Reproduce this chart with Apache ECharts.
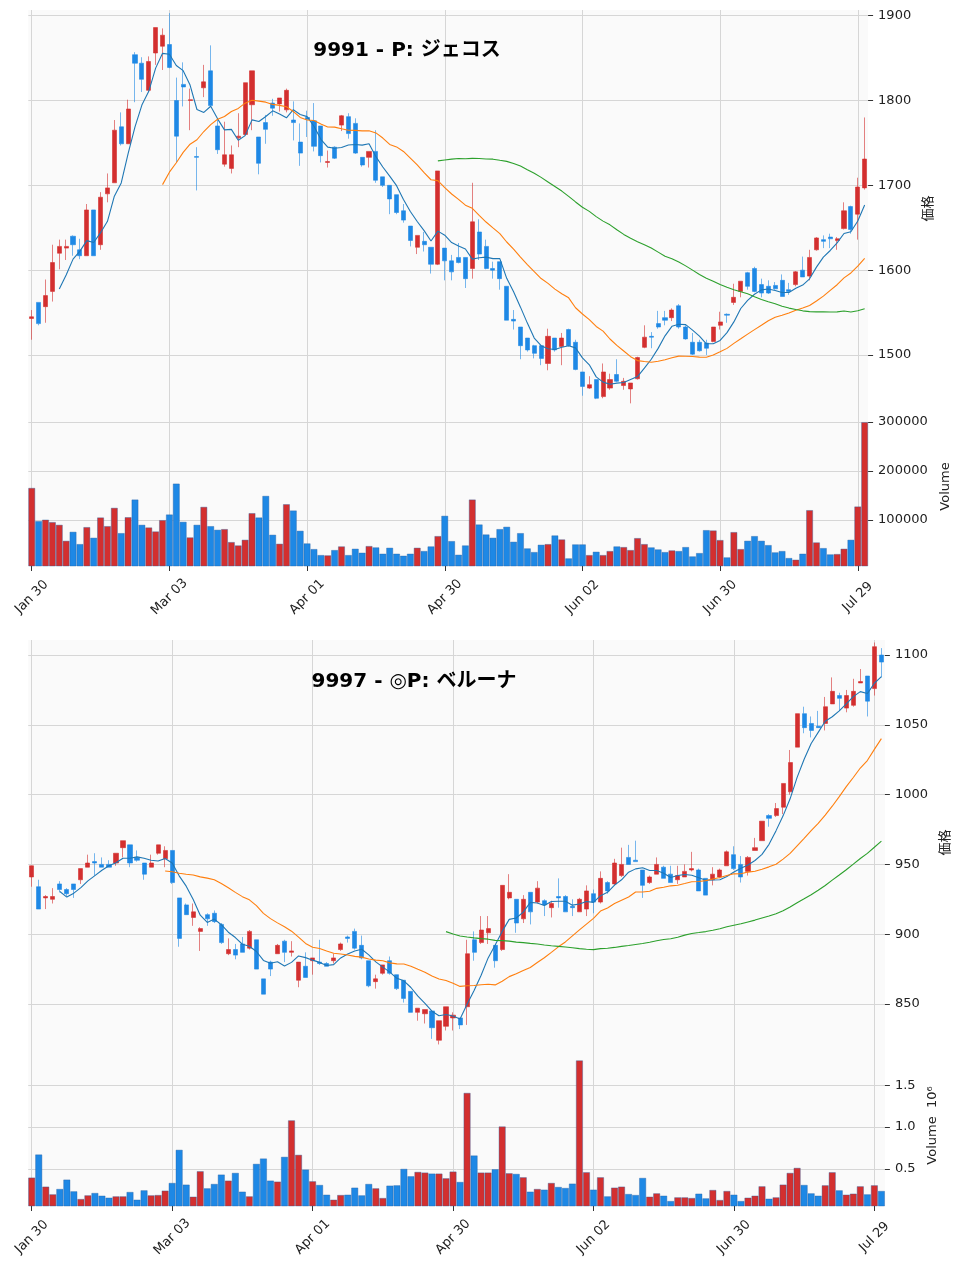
<!DOCTYPE html>
<html>
<head>
<meta charset="utf-8">
<title>9991 / 9997</title>
<script src="https://cdn.jsdelivr.net/npm/echarts@6/dist/echarts.min.js"></script>
<style>
html, body { margin: 0; padding: 0; background: #ffffff; }
#chart { width: 960px; height: 1272px; }
</style>
</head>
<body>
<div id="chart"></div>
<script>
// trading days (one shared category list for both stocks)
var dates = ['Jan 30','Jan 31','Feb 03','Feb 04','Feb 05','Feb 06','Feb 07','Feb 10','Feb 12','Feb 13','Feb 14','Feb 17','Feb 18','Feb 19','Feb 20','Feb 21','Feb 25','Feb 26','Feb 27','Feb 28',
    'Mar 03','Mar 04','Mar 05','Mar 06','Mar 07','Mar 10','Mar 11','Mar 12','Mar 13','Mar 14','Mar 17','Mar 18','Mar 19','Mar 21','Mar 24','Mar 25','Mar 26','Mar 27','Mar 28','Mar 31',
    'Apr 01','Apr 02','Apr 03','Apr 04','Apr 07','Apr 08','Apr 09','Apr 10','Apr 11','Apr 14','Apr 15','Apr 16','Apr 17','Apr 18','Apr 21','Apr 22','Apr 23','Apr 24','Apr 25','Apr 28',
    'Apr 30','May 01','May 02','May 07','May 08','May 09','May 12','May 13','May 14','May 15','May 16','May 19','May 20','May 21','May 22','May 23','May 26','May 27','May 28','May 29',
    'Jun 02','Jun 03','Jun 04','Jun 05','Jun 06','Jun 09','Jun 10','Jun 11','Jun 12','Jun 13','Jun 16','Jun 17','Jun 18','Jun 19','Jun 20','Jun 23','Jun 24','Jun 25','Jun 26','Jun 27',
    'Jun 30','Jul 01','Jul 02','Jul 03','Jul 04','Jul 07','Jul 08','Jul 09','Jul 10','Jul 11','Jul 14','Jul 15','Jul 16','Jul 17','Jul 18','Jul 22','Jul 23','Jul 24','Jul 25','Jul 28',
    'Jul 29','Jul 30'];

// 9991 ジェコス
var open1 = [1543,1562,1557,1575,1620,1626,1640,1624,1617,1671, 1630,1690,1703,1769,1749,1854,1844,1812,1856,1864,
    1866,1800,1819,1800,1734,1815,1835,1770,1725,1720, 1756,1760,1795,1757,1774,1797,1796,1789,1777,1751,
    1780,1776,1770,1727,1745,1771,1781,1773,1733,1733, 1740,1710,1700,1689,1670,1652,1627,1634,1627,1607,
    1626,1611,1615,1615,1602,1645,1628,1602,1610,1581, 1542,1533,1520,1511,1511,1490,1520,1510,1530,1515,
    1480,1461,1471,1451,1461,1477,1464,1460,1472,1509, 1522,1537,1544,1544,1558,1533,1515,1515,1514,1516,
    1535,1548,1562,1575,1597,1602,1583,1581,1582,1588, 1577,1583,1600,1593,1624,1636,1639,1635,1649,1675,
    1666,1697];
var close1 = [1545,1537,1570,1609,1628,1628,1630,1617,1671,1617, 1686,1697,1765,1749,1790,1844,1825,1846,1886,1877,
    1839,1758,1816,1801,1733,1822,1794,1742,1736,1736, 1758,1821,1835,1726,1766,1791,1803,1812,1774,1738,
    1778,1746,1735,1728,1732,1782,1761,1738,1724,1740, 1706,1700,1684,1668,1659,1635,1641,1630,1607,1717,
    1611,1598,1609,1590,1657,1619,1602,1600,1590,1541, 1540,1511,1506,1502,1496,1522,1506,1520,1511,1483,
    1463,1465,1449,1480,1471,1469,1469,1467,1497,1521, 1521,1533,1541,1553,1533,1519,1501,1505,1508,1533,
    1539,1547,1568,1587,1581,1575,1573,1573,1578,1569, 1575,1598,1592,1615,1638,1634,1637,1637,1670,1648,
    1698,1731];
var low1 = [1518,1535,1538,1563,1601,1612,1617,1613,1617,1617, 1624,1680,1703,1747,1749,1798,1810,1810,1842,1836,
    1838,1727,1793,1765,1694,1804,1793,1737,1722,1714, 1745,1759,1765,1713,1749,1782,1787,1786,1753,1723,
    1757,1740,1727,1721,1731,1764,1755,1737,1722,1721, 1703,1698,1666,1666,1656,1628,1619,1622,1596,1606,
    1588,1588,1608,1579,1590,1612,1601,1590,1577,1541, 1530,1495,1504,1496,1488,1482,1504,1488,1510,1482,
    1452,1460,1448,1449,1459,1468,1459,1443,1471,1508, 1508,1531,1535,1540,1531,1518,1500,1504,1500,1515,
    1530,1538,1559,1568,1577,1574,1568,1572,1577,1569, 1571,1581,1592,1588,1623,1626,1626,1624,1648,1643,
    1636,1695];
var high1 = [1553,1562,1589,1630,1636,1636,1641,1637,1678,1671, 1692,1714,1777,1786,1801,1857,1851,1852,1886,1885,
    1903,1827,1845,1814,1745,1842,1865,1779,1775,1747, 1785,1821,1835,1757,1783,1802,1803,1814,1799,1773,
    1788,1797,1770,1741,1746,1783,1785,1779,1733,1740, 1765,1710,1700,1689,1678,1652,1641,1645,1627,1717,
    1626,1618,1632,1615,1703,1660,1636,1610,1610,1581, 1553,1533,1520,1512,1512,1531,1520,1526,1531,1518,
    1480,1475,1471,1490,1478,1495,1473,1467,1498,1535, 1527,1552,1552,1555,1560,1535,1526,1518,1518,1533,
    1551,1549,1584,1587,1598,1604,1590,1588,1586,1595, 1585,1599,1616,1624,1639,1641,1643,1639,1680,1676,
    1709,1780];
var vol1 = [165500,98000,101000,96000,90500,58000,76300,51300,85800,64200, 105400,87800,125000,73600,106000,141900,90500,85100,77000,100000,
    111500,174300,96600,64900,90500,127000,87800,80400,81800,55400, 48600,60100,114200,105400,149300,70300,52000,132400,119600,78400,
    52700,41200,29000,28400,39200,46600,29000,41900,33800,47300, 44600,31800,43900,31800,27700,31800,43900,37200,46600,67600,
    108800,57400,29700,48600,141900,91200,70900,64200,81800,86500, 56100,73600,42600,35100,50000,51300,68900,60800,22300,50700,
    50700,29000,35800,29000,37200,46600,45300,39200,63500,51300, 44600,40500,35100,38500,37200,45300,26300,33100,79700,79000,
    59500,24300,75700,41200,58100,67600,58100,49300,34500,37200, 23000,19600,31800,120300,54700,43200,30400,31100,41900,60100,
    127700,299300];

// 9997 ベルーナ
var open2 = [941,934,926,925,936,932,936,939,948,952, 950,950,951,962,964,955,951,948,958,954,
    960,926,921,912,902,914,915,907,886,889, 893,890,896,868,880,886,895,887,867,877,
    881,880,879,881,889,898,902,892,881,866, 872,881,871,867,859,844,843,845,824,834,
    840,840,848,896,894,901,892,889,926,925, 911,930,923,924,919,927,927,920,916,918,
    929,923,937,936,942,955,953,946,937,943, 948,943,939,941,946,946,940,939,941,949,
    957,950,945,960,967,985,985,991,1002,1034, 1058,1051,1049,1051,1065,1071,1062,1064,1080,1085,
    1076,1100];
var close2 = [949,918,927,927,932,929,932,947,951,951, 948,948,958,967,951,953,943,951,964,960,
    937,897,914,916,904,911,909,894,889,885, 887,902,875,857,875,892,887,888,880,869,
    883,879,877,883,893,897,890,883,863,868, 878,872,861,854,844,847,846,833,838,848,
    842,835,886,887,903,904,881,935,930,908, 925,916,933,921,922,926,916,919,925,931,
    923,940,931,951,950,950,952,935,941,950, 940,937,942,945,947,931,928,943,946,959,
    947,941,955,962,981,983,990,1008,1023,1058, 1048,1046,1048,1063,1074,1069,1071,1074,1081,1067,
    1106,1095];
var low2 = [934,918,918,922,930,927,926,936,948,942, 948,948,949,955,948,952,939,948,957,948,
    936,891,914,906,888,906,908,893,885,882, 887,889,875,857,870,886,880,884,862,869,
    871,878,877,879,888,894,889,882,862,861, 871,871,860,851,844,838,836,825,821,831,
    831,832,835,881,893,893,876,888,925,901, 908,907,922,913,912,919,916,913,916,913,
    915,922,929,935,941,950,952,926,936,943, 940,937,936,941,945,931,928,935,940,949,
    946,937,942,960,967,977,984,986,1000,1034, 1044,1041,1048,1046,1065,1060,1059,1063,1080,1056,
    1071,1084];
var high2 = [949,939,928,933,938,933,936,947,957,958, 955,953,958,967,964,960,951,957,964,963,
    960,926,922,922,905,915,917,908,897,893, 898,903,896,868,881,893,896,895,880,887,
    883,896,880,886,894,899,904,899,881,871, 878,884,871,867,859,847,846,845,838,848,
    844,840,896,902,913,913,892,935,943,925, 928,930,938,925,924,940,928,925,926,935,
    932,945,938,954,962,964,967,946,942,955, 949,949,949,950,959,947,940,948,947,960,
    963,956,956,969,981,986,994,1008,1032,1058, 1063,1056,1060,1070,1084,1073,1075,1083,1090,1085,
    1109,1105];
var vol2 = [396000,672000,288000,196000,260000,372000,232000,140000,184000,212000, 180000,156000,172000,172000,224000,132000,244000,184000,188000,240000,
    332000,728000,312000,168000,472000,268000,320000,432000,360000,452000, 228000,172000,560000,624000,360000,348000,644000,1080000,668000,492000,
    352000,308000,192000,132000,188000,192000,276000,184000,320000,268000, 152000,300000,304000,500000,412000,464000,456000,444000,444000,388000,
    468000,344000,1408000,660000,456000,456000,496000,1007000,448000,440000, 400000,228000,260000,252000,332000,284000,272000,324000,1796000,460000,
    252000,400000,172000,276000,288000,200000,188000,392000,168000,208000, 180000,116000,160000,160000,152000,204000,148000,248000,128000,236000,
    192000,116000,156000,180000,292000,144000,160000,312000,452000,512000, 308000,208000,180000,304000,460000,244000,192000,204000,292000,196000,
    304000,236000];

// axis tick values
var priceTicks1 = [1500, 1600, 1700, 1800, 1900];
var volTicks1 = [100000, 200000, 300000];
var priceTicks2 = [850, 900, 950, 1000, 1050, 1100];
var volTicks2 = [500000, 1000000, 1500000];
var maDays = [5, 20, 60];
var maColors = ['#1f77b4', '#ff7f0e', '#2ca02c'];

var UP = '#d32f2f';
var DOWN = '#1e88e5';
var FONT = '"DejaVu Sans", "Noto Sans CJK JP", sans-serif';

function movingAverage(closes, n)
{
    var out = [];
    for (var i = 0; i < closes.length; i++)
    {
        if (i < n - 1)
        {
            out.push('-');
            continue;
        }
        var sum = 0;
        for (var j = i - n + 1; j <= i; j++)
            sum += closes[j];
        out.push(+(sum / n).toFixed(2));
    }
    return out;
}

function candleData(o, c, l, h)
{
    var out = [];
    for (var i = 0; i < o.length; i++)
        out.push([o[i], c[i], l[i], h[i]]);
    return out;
}

function volumeData(vol, o, c)
{
    var out = [];
    for (var i = 0; i < vol.length; i++)
    {
        out.push({
            value: vol[i],
            itemStyle: {color: c[i] >= o[i] ? UP : DOWN}
        });
    }
    return out;
}

function plainNumber(v)
{
    return String(v);
}

function makeXAxis(gridIndex, showLabels)
{
    return {
        type: 'category',
        gridIndex: gridIndex,
        data: dates,
        boundaryGap: true,
        axisLine: {show: false},
        axisTick: {show: showLabels, interval: 19, alignWithLabel: true, length: 5, lineStyle: {color: '#333'}},
        axisLabel: {
            show: showLabels, interval: 19, rotate: 45, margin: 31,
            align: 'center', verticalAlign: 'middle',
            fontSize: 13, fontFamily: FONT, color: '#222'
        },
        splitLine: {show: true, interval: 19, alignWithLabel: true, lineStyle: {color: '#d6d6d6', width: 1}}
    };
}

function makeYAxis(gridIndex, min, max, splitNumber, ticks, name, nameGap, formatter)
{
    return {
        type: 'value',
        gridIndex: gridIndex,
        position: 'right',
        min: min,
        max: max,
        splitNumber: splitNumber,
        axisLine: {show: false},
        axisTick: {show: true, length: 5, customValues: ticks, lineStyle: {color: '#333'}},
        axisLabel: {
            margin: 10, fontSize: 13, fontFamily: FONT, color: '#222',
            customValues: ticks,
            formatter: formatter || plainNumber
        },
        splitLine: {lineStyle: {color: '#d6d6d6', width: 1}},
        name: name,
        nameLocation: 'middle',
        nameGap: nameGap,
        nameTextStyle: {fontSize: 13, fontFamily: FONT, color: '#222'}
    };
}

function stockSeries(axisBase, o, c, l, h, vol)
{
    var list = [];
    list.push({
        type: 'candlestick',
        xAxisIndex: axisBase,
        yAxisIndex: axisBase,
        data: candleData(o, c, l, h),
        barWidth: 4.6,
        itemStyle: {
            color: UP, color0: DOWN,
            borderColor: 'rgba(211,47,47,0.6)', borderColor0: 'rgba(30,136,229,0.6)',
            borderWidth: 1
        },
        z: 2
    });
    for (var k = 0; k < maDays.length; k++)
    {
        list.push({
            type: 'line',
            xAxisIndex: axisBase,
            yAxisIndex: axisBase,
            data: movingAverage(c, maDays[k]),
            showSymbol: false,
            symbol: 'none',
            lineStyle: {color: maColors[k], width: 1.1},
            z: 3
        });
    }
    list.push({
        type: 'bar',
        xAxisIndex: axisBase + 1,
        yAxisIndex: axisBase + 1,
        data: volumeData(vol, o, c),
        barCategoryGap: '0%',
        itemStyle: {borderColor: 'rgba(40,95,160,0.55)', borderWidth: 0.7}
    });
    return list;
}

var myChart = echarts.init(document.getElementById('chart'), null, {renderer: 'canvas'});

var gridStyle = {show: true, backgroundColor: '#fafafa', borderWidth: 0};

var option = {
    animation: false,
    backgroundColor: '#ffffff',
    grid: [
        Object.assign({left: 28.3, right: 91.9, top: 10, height: 397}, gridStyle),
        Object.assign({left: 28.3, right: 91.9, top: 407, height: 159}, gridStyle),
        Object.assign({left: 28.2, right: 75.1, top: 640, height: 405}, gridStyle),
        Object.assign({left: 28.2, right: 75.1, top: 1045, height: 161}, gridStyle)
    ],
    xAxis: [
        makeXAxis(0, false),
        makeXAxis(1, true),
        makeXAxis(2, false),
        makeXAxis(3, true)
    ],
    yAxis: [
        makeYAxis(0, 1438.7, 1906.7, 5, priceTicks1, '価格', 40),
        makeYAxis(1, 6700, 330000, 3, volTicks1, 'Volume', 64),
        makeYAxis(2, 820.6, 1110.8, 5, priceTicks2, '価格', 47),
        makeYAxis(3, 56000, 1980000, 4, volTicks2, 'Volume  10⁶', 35, function (v)
        {
            return (v / 1000000).toFixed(1);
        })
    ],
    graphic: [
        {
            type: 'text', x: 407, y: 51, z: 10,
            style: {
                text: '9991 - P: ジェコス', align: 'center', verticalAlign: 'middle',
                fontSize: 20, fontWeight: 'bold', fontFamily: FONT, fill: '#000'
            }
        },
        {
            type: 'text', x: 414, y: 682, z: 10,
            style: {
                text: '9997 - ◎P: ベルーナ', align: 'center', verticalAlign: 'middle',
                fontSize: 20, fontWeight: 'bold', fontFamily: FONT, fill: '#000'
            }
        }
    ],
    series: stockSeries(0, open1, close1, low1, high1, vol1)
        .concat(stockSeries(2, open2, close2, low2, high2, vol2))
};

myChart.setOption(option);
</script>
</body>
</html>
